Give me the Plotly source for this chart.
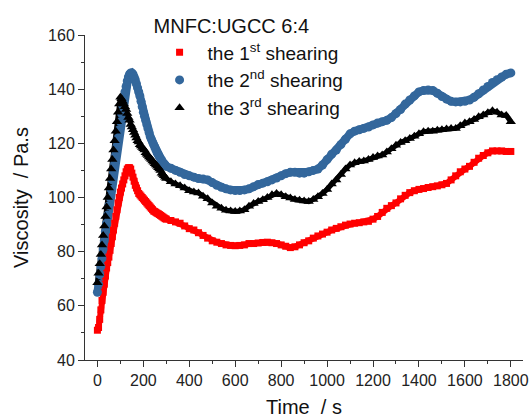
import plotly.graph_objects as go

# sample times (s): every 5 s up to 295 s, then every 20 s to 1800 s
time_s = list(range(0, 300, 5)) + list(range(300, 1801, 20))

visc_1st = [
    51, 52, 55, 58.5, 62, 65, 68, 71, 74, 76,
    78, 80.5, 83, 85.5, 88, 90.5, 93, 95.5, 98, 100,
    102, 103.5, 105, 106.5, 108, 109.5, 110.5, 111, 111, 110.5,
    109, 107.5, 106, 104.5, 103.5, 102.5, 101.5, 101, 100.5, 100,
    99.5, 99, 98.5, 98, 97.5, 97, 96.5, 96, 95.5, 95,
    94.8, 94.5, 94.2, 94, 93.7, 93.4, 93.1, 92.8, 92.5, 92.2,
    92, 91.5, 91, 90.5, 89.5, 88.5, 88, 87, 86, 85,
    84, 83.5, 83, 82.5, 82.3, 82.2, 82.3, 82.5, 83, 83,
    83.2, 83.4, 83.5, 83.3, 83, 82.5, 82, 81.5, 81.8, 82.5,
    83.3, 84, 85, 85.8, 86.5, 87.2, 88, 88.6, 89.2, 89.8,
    90.2, 90.5, 90.7, 91, 91.2, 92, 93, 94.5, 96, 97,
    98, 99.5, 100.8, 101.8, 102.5, 103, 103.3, 103.7, 104, 104.3,
    104.7, 105.2, 106.5, 108, 109.5, 110.5, 111.5, 113, 114.5, 115.5,
    116.5, 117.2, 117.2, 117.2, 117, 117,
]

visc_2nd = [
    65, 68, 71.5, 74.5, 77.5, 81, 84, 87.5, 90.5, 93.5,
    97, 100, 103, 106.5, 109.5, 112.5, 116, 119, 122, 125,
    128, 131, 134, 136.5, 139, 141, 143, 144.5, 145.5, 146,
    146, 145.5, 144.5, 143.5, 142, 140.5, 139, 137.5, 135.5, 133.5,
    131.5, 130, 128.5, 127, 125.5, 124, 122.5, 121.5, 120.5, 119.5,
    118.5, 117.5, 116.5, 115.8, 115, 114.3, 113.7, 113, 112.5, 112,
    111.5, 110.8, 110, 109.3, 108.5, 108, 107.5, 107, 106.8, 106.5,
    105.5, 104.5, 103.8, 103.2, 102.8, 102.6, 102.6, 102.8, 103.2, 104,
    104.8, 105.3, 105.8, 106.5, 107.2, 108, 108.8, 109.3, 109.3, 109,
    109, 109.5, 110, 110.5, 112, 114, 116, 117.5, 119.5, 121.5,
    123.5, 124.5, 125, 125.5, 126, 126.8, 127.5, 128, 128.5, 129.5,
    131, 132.5, 134.5, 136, 137.5, 139, 139.5, 139.7, 139.5, 138.5,
    137.3, 136.3, 135.5, 135.3, 135.3, 135.5, 136, 137, 138.3, 139.7,
    141, 142.5, 143.5, 144.5, 145.5, 146,
]

visc_3rd = [
    68.5, 72, 75.5, 79, 82.5, 86, 89.5, 93, 96.5, 100,
    103.5, 107, 110.5, 114, 117.5, 121, 124.5, 128, 131.5, 134.5,
    137, 136.5, 135.5, 134.5, 133.5, 132.5, 131, 129.5, 128.5, 127,
    126, 125, 124, 123, 122, 121, 120.5, 119.5, 119, 118.5,
    118, 117.5, 116.5, 116, 115.5, 115, 114.5, 114, 113.5, 113,
    112.5, 112, 111.5, 111, 110.5, 110, 109, 108.5, 108, 107.5,
    107, 105.8, 105, 104.3, 103.5, 102.5, 102, 101.7, 100.5, 99.5,
    98, 96.8, 96, 95.3, 95, 94.8, 95, 95.5, 96.8, 97.8,
    98.5, 99.2, 100, 101, 101.5, 101, 100.3, 99.8, 99.3, 99,
    98.7, 98.5, 99.3, 100.3, 101.5, 103, 105, 106.5, 108.5, 110.5,
    112, 112.8, 113.3, 113.5, 114, 114.8, 115.3, 115.7, 116.8, 118,
    119.3, 120.3, 121, 121.8, 122.6, 123.5, 124.3, 124.5, 124.5, 124.8,
    125, 125.3, 125.5, 125.5, 126.5, 127.5, 128, 128.8, 129.8, 130.5,
    131.3, 132, 131.5, 130.5, 130.3, 128,
]

series_names = ["the 1<sup>st</sup> shearing", "the 2<sup>nd</sup> shearing",
                "the 3<sup>rd</sup> shearing"]
legend_title = "MNFC:UGCC 6:4"

FONT = "Arial, Liberation Sans, sans-serif"

styles = [
    dict(y=visc_1st, symbol="square", size=7, color="#FF0000", band=6),
    dict(y=visc_2nd, symbol="circle", size=9, color="#33679C", band=8),
    dict(y=visc_3rd, symbol="triangle-up", size=9, color="#000000", band=5),
]

fig = go.Figure()
# solid band under the markers (the measured points are very dense in the original)
for i, s in enumerate(styles):
    fig.add_trace(go.Scatter(x=time_s, y=s["y"], mode="lines", showlegend=False,
                             legendgroup=str(i), hoverinfo="skip",
                             line=dict(color=s["color"], width=s["band"])))
for i, s in enumerate(styles):
    fig.add_trace(go.Scatter(x=time_s, y=s["y"], mode="markers", name=series_names[i],
                             legendgroup=str(i),
                             marker=dict(symbol=s["symbol"], size=s["size"], color=s["color"])))

minor_x = dict(ticks="outside", ticklen=3, tickwidth=1, tickcolor="#333333", dtick=100, tick0=0)
minor_y = dict(ticks="outside", ticklen=3, tickwidth=1, tickcolor="#333333", dtick=10, tick0=40)

axis_common = dict(
    showgrid=False, zeroline=False, showline=True, linecolor="#333333", linewidth=1,
    ticks="outside", ticklen=6, tickwidth=1, tickcolor="#333333",
    tickfont=dict(family=FONT, size=16, color="#222222"),
    automargin=False,
)

fig.update_layout(
    width=529, height=418,
    margin=dict(l=85, r=6, t=35, b=58),
    paper_bgcolor="white", plot_bgcolor="white",
    font=dict(family=FONT, color="#111111"),
    xaxis=dict(range=[-54, 1853], tick0=0, dtick=200, minor=minor_x,
               title=dict(text="Time  / s", font=dict(family=FONT, size=20), standoff=16),
               **axis_common),
    yaxis=dict(range=[40, 160], tick0=40, dtick=20, minor=minor_y,
               title=dict(text="Viscosity  / Pa.s", font=dict(family=FONT, size=20), standoff=14),
               **axis_common),
    legend=dict(
        x=0.152, y=1.085, xanchor="left", yanchor="top",
        bgcolor="rgba(0,0,0,0)", borderwidth=0,
        font=dict(family=FONT, size=19, color="#111111"),
        title=dict(text=legend_title, font=dict(family=FONT, size=20, color="#111111")),
        itemwidth=46, tracegroupgap=0,
    ),
    showlegend=True,
)

fig.write_html("out.html")
